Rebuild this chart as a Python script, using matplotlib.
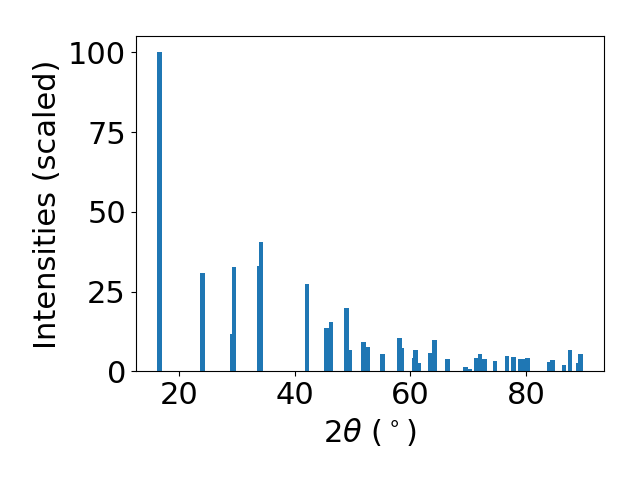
import matplotlib
matplotlib.use("Agg")
import matplotlib.pyplot as plt

two_theta = [16.6, 24.05, 29.27, 29.5, 33.97, 34.2, 42.1, 45.5, 46.3, 49.0, 49.55,
             51.9, 52.65, 55.2, 58.1, 58.5, 60.7, 60.9, 61.45, 63.45, 64.2, 66.4,
             69.5, 70.2, 71.4, 72.0, 72.8, 74.6, 76.7, 77.8, 79.0, 79.6, 80.2,
             84.0, 84.55, 86.55, 87.6, 89.0, 89.4]
intensity = [100, 30.7, 11.6, 32.6, 33.0, 40.4, 27.4, 13.5, 15.4, 19.8, 6.6,
             9.1, 7.5, 5.3, 10.4, 7.2, 4.1, 6.6, 2.6, 5.7, 9.7, 3.8,
             1.3, 0.6, 4.1, 5.3, 3.8, 3.1, 4.7, 4.4, 3.8, 3.8, 4.1,
             2.8, 3.4, 1.9, 6.6, 2.5, 5.3]

plt.rcParams['font.size'] = 22
fig, ax = plt.subplots(figsize=(6.4, 4.8), dpi=100)
ax.bar(two_theta, intensity)
ax.set_xlabel(r'$2\theta$ ($^\circ$)')
ax.set_ylabel('Intensities (scaled)')
fig.subplots_adjust(left=0.212, right=0.944, top=0.924, bottom=0.2265)
fig.savefig('out.png')
